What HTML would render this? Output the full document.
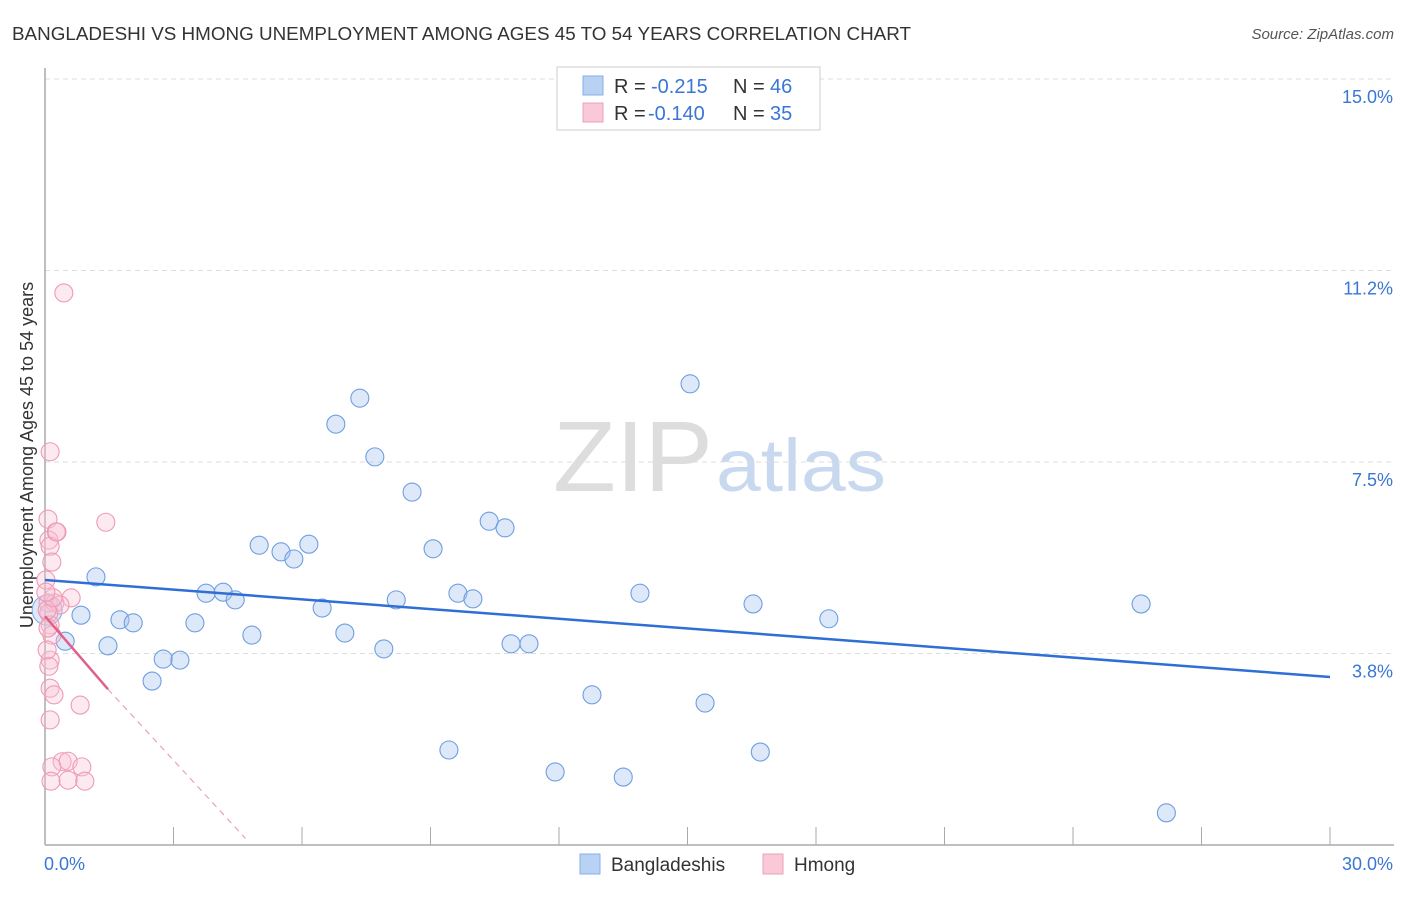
<!DOCTYPE html>
<html><head><meta charset="utf-8"><style>
body{margin:0;background:#fff;font-family:"Liberation Sans",sans-serif;}
svg text{font-family:"Liberation Sans",sans-serif;}
</style></head><body>
<svg id="chart" width="1406" height="892" viewBox="0 0 1406 892">
<text x="12" y="40" font-size="18" fill="#333" textLength="899" lengthAdjust="spacingAndGlyphs">BANGLADESHI VS HMONG UNEMPLOYMENT AMONG AGES 45 TO 54 YEARS CORRELATION CHART</text>
<text x="1394" y="39" font-size="15" fill="#555" text-anchor="end" font-style="italic">Source: ZipAtlas.com</text>
<text x="553" y="491" font-size="100" fill="#ddd" font-family="Liberation Serif" textLength="160" lengthAdjust="spacingAndGlyphs">ZIP</text>
<text x="716" y="491" font-size="74" fill="#c8d8ef" textLength="170" lengthAdjust="spacingAndGlyphs">atlas</text>
<text transform="translate(33,455) rotate(-90)" font-size="18" fill="#333" text-anchor="middle">Unemployment Among Ages 45 to 54 years</text>
<g id="grid"></g>
<g id="axes"></g>
<g id="marks"></g>
<g>
<rect x="557" y="67" width="263" height="63" fill="#fff" stroke="#ccc"/>
<rect x="583" y="76" width="20" height="19" fill="#b9d1f3" stroke="#88aee8"/>
<rect x="583" y="103" width="20" height="19" fill="#f9c9d7" stroke="#eea0b9"/>
<text x="614" y="93" font-size="20" fill="#333">R =</text>
<text x="651" y="93" font-size="20" fill="#3a76d3">-0.215</text>
<text x="733" y="93" font-size="20" fill="#333">N =</text>
<text x="770" y="93" font-size="20" fill="#3a76d3">46</text>
<text x="614" y="120" font-size="20" fill="#333">R =</text>
<text x="648" y="120" font-size="20" fill="#3a76d3">-0.140</text>
<text x="733" y="120" font-size="20" fill="#333">N =</text>
<text x="770" y="120" font-size="20" fill="#3a76d3">35</text>
</g>
<g>
<rect x="580" y="854" width="20" height="20" fill="#b9d1f3" stroke="#88aee8"/>
<text x="611" y="871" font-size="19" fill="#333">Bangladeshis</text>
<rect x="763" y="854" width="20" height="20" fill="#f9c9d7" stroke="#eea0b9"/>
<text x="794" y="871" font-size="19" fill="#333">Hmong</text>
</g>
</svg>
<script>
const blueX=[1.19,0.84,0.47,1.47,1.75,2.06,2.50,2.76,3.15,3.50,3.76,4.16,4.44,4.83,5.00,5.51,5.81,6.16,6.47,6.79,7.00,7.35,7.70,7.91,8.20,8.57,9.06,9.43,9.64,9.99,10.37,10.74,10.88,11.30,11.91,12.77,13.50,13.89,15.06,15.41,16.53,16.70,18.30,25.59,26.18];
const blueY=[5.25,4.50,3.99,3.90,4.41,4.35,3.21,3.64,3.62,4.35,4.93,4.95,4.80,4.11,5.87,5.74,5.60,5.89,4.64,8.24,4.15,8.75,7.60,3.84,4.80,6.91,5.80,1.86,4.93,4.82,6.34,6.21,3.94,3.94,1.43,2.94,1.33,4.93,9.03,2.78,4.72,1.82,4.43,4.72,0.63];
const pinkX=[0.44,0.12,1.42,0.07,0.26,0.09,0.12,0.16,0.61,0.07,0.23,0.35,0.09,0.12,0.16,0.12,0.09,0.12,0.21,0.82,0.12,0.40,0.16,0.54,0.86,0.14,0.54,0.93,0.28,0.05,0.19,0.05,0.02,0.07,0.02];
const pinkY=[10.81,7.70,6.32,6.38,6.13,5.97,5.85,5.54,4.84,4.74,4.74,4.70,4.54,4.31,4.11,3.62,3.50,3.07,2.94,2.74,2.45,1.63,1.53,1.64,1.53,1.25,1.27,1.25,6.13,4.60,4.84,3.82,5.19,4.25,4.95];
const bigBlue=[0.05,4.60];
const yTicks=[15,11.25,7.5,3.75];
const yTickLabels=["15.0%","11.2%","7.5%","3.8%"];
const blueTrend=[[0,5.19],[30,3.29]];
const pinkTrend=[[0,4.48],[1.47,3.05]];
const pinkDash=[[1.47,3.05],[4.68,0.13]];
const X0=45,X1=1330,YB=845,K=51.07;
const sx=v=>X0+v/30*(X1-X0);
const sy=v=>YB-v*K;
const NS="http://www.w3.org/2000/svg";
function mk(parent,tag,attrs){const e=document.createElementNS(NS,tag);for(const k in attrs)e.setAttribute(k,attrs[k]);document.getElementById(parent).appendChild(e);return e;}
yTicks.forEach((t,i)=>{
 const l=mk('grid','line',{x1:X0,x2:1394,y1:sy(t),y2:sy(t),stroke:'#ddd','stroke-dasharray':'5,4'});
 
 
 const tx=mk('grid','text',{x:1393,y:sy(t)+24,'font-size':18,fill:'#3a76d3','text-anchor':'end'});
 tx.textContent=yTickLabels[i];
 
 
});
let ax=mk('axes','line',{x1:X0,x2:X0,y1:68,y2:YB,stroke:'#aaa','stroke-width':1.5});


ax=mk('axes','line',{x1:X0,x2:1394,y1:YB,y2:YB,stroke:'#aaa','stroke-width':1.5});


for(let i=0;i<=10;i++){const t=mk('axes','line',{x1:sx(i*3),x2:sx(i*3),y1:827,y2:YB,stroke:'#aaa'});
 
 }
let xl=mk('axes','text',{x:44,y:870,'font-size':18,fill:'#3a76d3'});xl.textContent='0.0%';


xl=mk('axes','text',{x:1393,y:870,'font-size':18,fill:'#3a76d3','text-anchor':'end'});xl.textContent='30.0%';


let bb=mk('marks','circle',{cx:sx(bigBlue[0]),cy:sy(bigBlue[1]),r:15,fill:'rgba(170,198,238,0.4)',stroke:'#7aa6e4'});


blueX.forEach((v,i)=>{const c=mk('marks','circle',{cx:sx(v),cy:sy(blueY[i]),r:9,fill:'rgba(170,198,238,0.4)',stroke:'#6e9ee2','stroke-width':1.1});
 
 });
pinkX.forEach((v,i)=>{const c=mk('marks','circle',{cx:sx(v),cy:sy(pinkY[i]),r:9,fill:'rgba(248,195,212,0.35)',stroke:'#ee9ab5','stroke-width':1.1});
 
 });
let tl=mk('marks','line',{x1:sx(blueTrend[0][0]),y1:sy(blueTrend[0][1]),x2:sx(blueTrend[1][0]),y2:sy(blueTrend[1][1]),stroke:'#2e6fd6','stroke-width':2.5});


tl=mk('marks','line',{x1:sx(pinkTrend[0][0]),y1:sy(pinkTrend[0][1]),x2:sx(pinkTrend[1][0]),y2:sy(pinkTrend[1][1]),stroke:'#e0608a','stroke-width':2.5});


tl=mk('marks','line',{x1:sx(pinkDash[0][0]),y1:sy(pinkDash[0][1]),x2:sx(pinkDash[1][0]),y2:sy(pinkDash[1][1]),stroke:'#eaa0b8','stroke-width':1.2,'stroke-dasharray':'6,5'});


</script>
</body></html>
